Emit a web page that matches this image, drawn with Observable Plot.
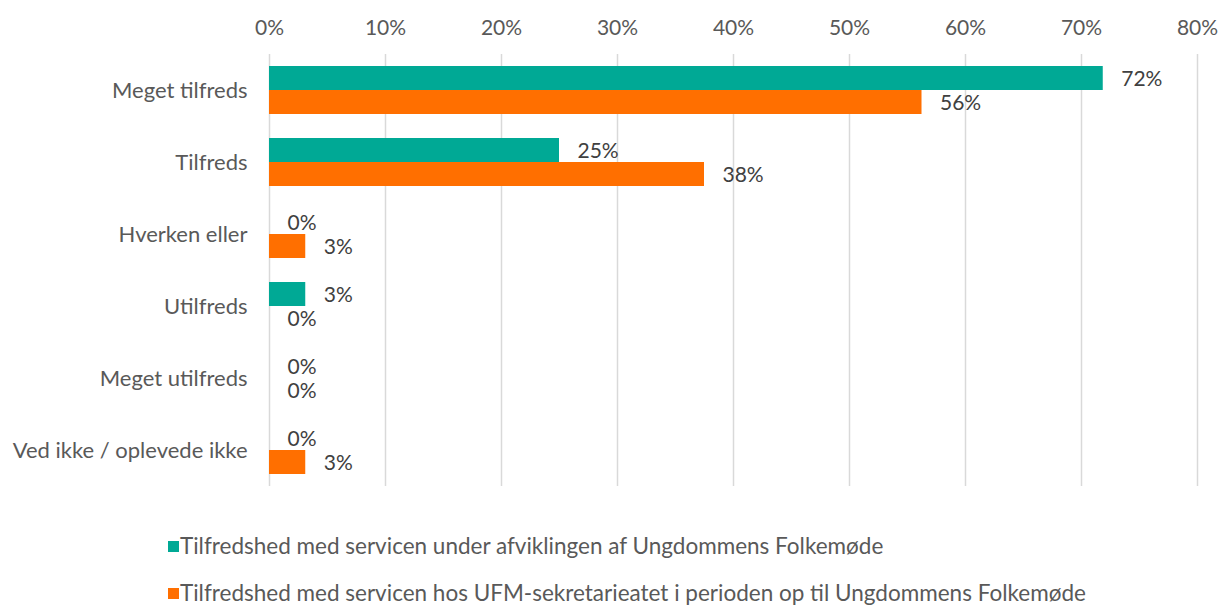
<!DOCTYPE html>
<html>
<head>
<meta charset="utf-8">
<script src="https://cdn.jsdelivr.net/npm/d3@7"></script>
<script src="https://cdn.jsdelivr.net/npm/@observablehq/plot@0.6"></script>
<style>
  html, body { margin: 0; padding: 0; background: #fff; overflow: hidden; }
  #chart { width: 1220px; height: 605px; position: relative; }
  .legend { font-family: Lato, sans-serif; font-size: 22.5px; line-height: 20px; color: #595959; position: absolute; left: 168px; top: 0; }
  .legend .row { display: flex; align-items: center; height: 20px; position: absolute; left: 0; white-space: nowrap; }
  .legend .sw { width: 11px; height: 11px; margin-right: 1px; flex: none; }
</style>
</head>
<body>
<div id="chart"></div>
<script>
const categories = ["Meget tilfreds", "Tilfreds", "Hverken eller", "Utilfreds", "Meget utilfreds", "Ved ikke / oplevede ikke"];
const seriesNames = [
  "Tilfredshed med servicen under afviklingen af Ungdommens Folkemøde",
  "Tilfredshed med servicen hos UFM-sekretarieatet i perioden op til Ungdommens Folkemøde"
];
const seriesA = [71.875, 25, 0, 3.125, 0, 0];
const seriesB = [56.25, 37.5, 3.125, 0, 0, 3.125];
const colors = ["#00a995", "#ff6f00"];
const xTicks = [0, 10, 20, 30, 40, 50, 60, 70, 80];

const dataA = categories.map((c, i) => ({category: c, value: seriesA[i]}));
const dataB = categories.map((c, i) => ({category: c, value: seriesB[i]}));
const fmt = v => Math.round(v) + "%";

const plot = Plot.plot({
  width: 1220,
  height: 505,
  marginLeft: 269,
  marginRight: 23,
  marginTop: 54,
  marginBottom: 19,
  style: {fontFamily: "Lato, sans-serif", fontSize: "21px", color: "#595959", background: "#fff", overflow: "visible"},
  x: {domain: [0, 80], ticks: xTicks, tickFormat: d => d + "%", label: null},
  y: {domain: categories, padding: 0, label: null},
  marks: [
    Plot.ruleX(xTicks, {stroke: "#d9d9d9", strokeWidth: 1.5}),
    Plot.axisX({anchor: "top", ticks: xTicks, tickFormat: d => d + "%", tickSize: 0, tickPadding: 20, label: null, fill: "#595959", fontSize: 21}),
    Plot.axisY({anchor: "left", tickSize: 0, tickPadding: 22, label: null, fill: "#595959", fontSize: 22}),
    Plot.barX(dataA, {x: "value", y: "category", fill: colors[0], insetTop: 12, insetBottom: 36}),
    Plot.barX(dataB, {x: "value", y: "category", fill: colors[1], insetTop: 36, insetBottom: 12}),
    Plot.text(dataA, {x: "value", y: "category", text: d => fmt(d.value), dx: 18, dy: -11, textAnchor: "start", fill: "#404040", fontSize: 21}),
    Plot.text(dataB, {x: "value", y: "category", text: d => fmt(d.value), dx: 18, dy: 13, textAnchor: "start", fill: "#404040", fontSize: 21})
  ]
});
const chart = document.getElementById("chart");
chart.appendChild(plot);

const legend = document.createElement("div");
legend.className = "legend";
const rowTops = [536, 583];
seriesNames.forEach((name, i) => {
  const row = document.createElement("div");
  row.className = "row";
  row.style.top = rowTops[i] + "px";
  const sw = document.createElement("span");
  sw.className = "sw";
  sw.style.background = colors[i];
  const t = document.createElement("span");
  t.textContent = name;
  row.appendChild(sw);
  row.appendChild(t);
  legend.appendChild(row);
});
chart.appendChild(legend);
</script>
</body>
</html>
